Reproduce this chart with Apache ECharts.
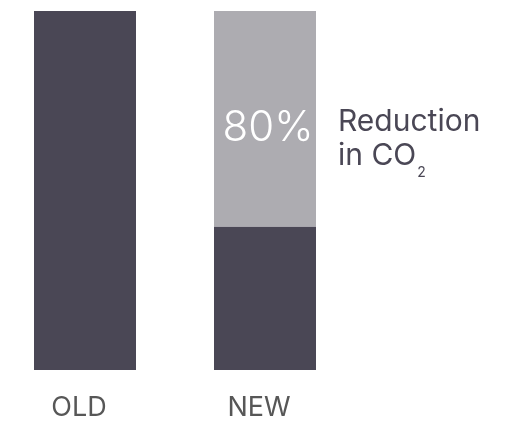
<!DOCTYPE html>
<html>
<head>
<meta charset="utf-8">
<script src="https://cdn.jsdelivr.net/npm/echarts@6/dist/echarts.min.js"></script>
<style>
  html, body { margin: 0; padding: 0; background: #fff; }
  #chart { width: 519px; height: 421px; }
</style>
</head>
<body>
<div id="chart"></div>
<script>
// data
const categories = ['OLD', 'NEW']
const remainingValues = [100, 40]
const reductionValues = [null, 60]
const reductionLabel = '80%'

const darkColor = '#4a4755'
const lightColor = '#adacb1'

const chart = echarts.init(document.getElementById('chart'))

// middle of the light segment on NEW
const noteValue = remainingValues[1] + reductionValues[1] / 2

const option = {
  animation: false,
  grid: { left: -5, right: 164, top: 11, bottom: 51, outerBoundsMode: 'none' },
  xAxis: {
    type: 'category',
    data: categories,
    axisLine: { show: false },
    axisTick: { show: false },
    axisLabel: {
      color: '#575757',
      fontFamily: 'Inter',
      fontSize: 27,
      margin: 24,
      padding: [0, 12, 0, 0]
    }
  },
  yAxis: {
    type: 'value',
    min: 0,
    max: 100,
    show: false
  },
  series: [
    {
      name: 'remaining',
      type: 'bar',
      stack: 'co2',
      barWidth: 102,
      data: remainingValues,
      itemStyle: { color: darkColor }
    },
    {
      name: 'reduction',
      type: 'bar',
      stack: 'co2',
      barWidth: 102,
      data: reductionValues,
      itemStyle: { color: lightColor },
      label: {
        show: true,
        position: 'inside',
        offset: [3, 10],
        formatter: reductionLabel,
        color: '#ffffff',
        fontFamily: 'Inter',
        fontWeight: 300,
        fontSize: 42
      },
      markPoint: {
        symbol: 'circle',
        symbolSize: 0,
        itemStyle: { color: 'rgba(0,0,0,0)' },
        data: [{ coord: ['NEW', noteValue] }],
        label: {
          show: true,
          position: 'right',
          distance: 0,
          offset: [73, 22],
          formatter: '{t|Reduction}\n{t|in CO}{s|2}',
          rich: {
            t: {
              fontFamily: 'Inter',
              fontSize: 30,
              lineHeight: 34,
              color: darkColor,
              verticalAlign: 'top'
            },
            s: {
              fontFamily: 'Inter',
              fontSize: 14,
              lineHeight: 14,
              color: darkColor,
              verticalAlign: 'top',
              padding: [25, 0, 0, 1]
            }
          }
        }
      }
    }
  ]
}

chart.setOption(option)
</script>
</body>
</html>
